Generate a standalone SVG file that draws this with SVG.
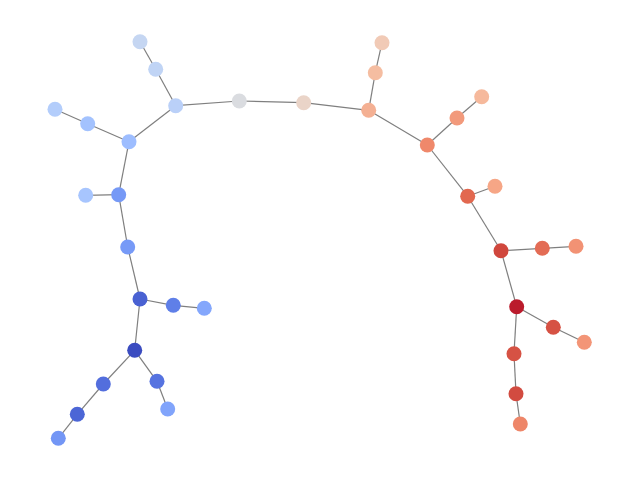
<svg xmlns="http://www.w3.org/2000/svg" width="640" height="480" viewBox="0 0 640 480">
<style>
.e line{stroke:#7f7f7f;stroke-width:1.2}
circle{stroke:none}
</style>
<rect width="640" height="480" fill="#ffffff"/>
<g id="connectors" class="e">
<line x1="140" y1="41.7" x2="155.7" y2="69.3"/>
<line x1="155.7" y1="69.3" x2="175.7" y2="105.7"/>
<line x1="175.7" y1="105.7" x2="239.3" y2="101"/>
<line x1="239.3" y1="101" x2="303.7" y2="102.7"/>
<line x1="303.7" y1="102.7" x2="368.7" y2="110.3"/>
<line x1="368.7" y1="110.3" x2="375.3" y2="72.7"/>
<line x1="375.3" y1="72.7" x2="382" y2="42.7"/>
<line x1="368.7" y1="110.3" x2="427.3" y2="145"/>
<line x1="427.3" y1="145" x2="457" y2="118"/>
<line x1="457" y1="118" x2="481.7" y2="96.7"/>
<line x1="427.3" y1="145" x2="467.7" y2="196.2"/>
<line x1="467.7" y1="196.2" x2="495" y2="186.2"/>
<line x1="467.7" y1="196.2" x2="501" y2="250.7"/>
<line x1="501" y1="250.7" x2="542.3" y2="248.3"/>
<line x1="542.3" y1="248.3" x2="576" y2="246.3"/>
<line x1="501" y1="250.7" x2="516.7" y2="306.7"/>
<line x1="516.7" y1="306.7" x2="553.3" y2="327.3"/>
<line x1="553.3" y1="327.3" x2="584.3" y2="342.3"/>
<line x1="516.7" y1="306.7" x2="514" y2="353.7"/>
<line x1="514" y1="353.7" x2="516" y2="393.7"/>
<line x1="516" y1="393.7" x2="520.3" y2="424"/>
<line x1="175.7" y1="105.7" x2="129" y2="141.7"/>
<line x1="129" y1="141.7" x2="87.7" y2="123.7"/>
<line x1="87.7" y1="123.7" x2="55" y2="109.3"/>
<line x1="129" y1="141.7" x2="118.7" y2="194.7"/>
<line x1="118.7" y1="194.7" x2="85.7" y2="195.3"/>
<line x1="118.7" y1="194.7" x2="127.7" y2="247"/>
<line x1="127.7" y1="247" x2="140" y2="299"/>
<line x1="140" y1="299" x2="173.3" y2="305.3"/>
<line x1="173.3" y1="305.3" x2="204.3" y2="308.3"/>
<line x1="140" y1="299" x2="134.7" y2="350.3"/>
<line x1="134.7" y1="350.3" x2="103.3" y2="384"/>
<line x1="103.3" y1="384" x2="77.3" y2="414.3"/>
<line x1="77.3" y1="414.3" x2="58.3" y2="438.3"/>
<line x1="134.7" y1="350.3" x2="157" y2="381.3"/>
<line x1="157" y1="381.3" x2="167.7" y2="409"/>
</g>
<g id="n1"><circle cx="140" cy="41.7" r="7.5" fill="#c5d6f2"/></g>
<g id="n2"><circle cx="155.7" cy="69.3" r="7.5" fill="#c0d4f5"/></g>
<g id="n3"><circle cx="175.7" cy="105.7" r="7.5" fill="#bad0f8"/></g>
<g id="n4"><circle cx="239.3" cy="101" r="7.5" fill="#dadce0"/></g>
<g id="n5"><circle cx="303.7" cy="102.7" r="7.5" fill="#ead4c8"/></g>
<g id="n6"><circle cx="368.7" cy="110.3" r="7.5" fill="#f4b093"/></g>
<g id="n7"><circle cx="375.3" cy="72.7" r="7.5" fill="#f5bda1"/></g>
<g id="n8"><circle cx="382" cy="42.7" r="7.5" fill="#f1cab6"/></g>
<g id="n9"><circle cx="427.3" cy="145" r="7.5" fill="#ef886b"/></g>
<g id="n10"><circle cx="457" cy="118" r="7.5" fill="#f29a7c"/></g>
<g id="n11"><circle cx="481.7" cy="96.7" r="7.5" fill="#f6b99c"/></g>
<g id="n12"><circle cx="467.7" cy="196.2" r="7.5" fill="#e2684f"/></g>
<g id="n13"><circle cx="495" cy="186.2" r="7.5" fill="#f6a686"/></g>
<g id="n14"><circle cx="501" cy="250.7" r="7.5" fill="#d0473d"/></g>
<g id="n15"><circle cx="542.3" cy="248.3" r="7.5" fill="#e36c55"/></g>
<g id="n16"><circle cx="576" cy="246.3" r="7.5" fill="#f29274"/></g>
<g id="n17"><circle cx="516.7" cy="306.7" r="7.5" fill="#bb1b2c"/></g>
<g id="n18"><circle cx="553.3" cy="327.3" r="7.5" fill="#d65244"/></g>
<g id="n19"><circle cx="584.3" cy="342.3" r="7.5" fill="#f39577"/></g>
<g id="n20"><circle cx="514" cy="353.7" r="7.5" fill="#d65244"/></g>
<g id="n21"><circle cx="516" cy="393.7" r="7.5" fill="#d24b40"/></g>
<g id="n22"><circle cx="520.3" cy="424" r="7.5" fill="#ee8669"/></g>
<g id="n23"><circle cx="129" cy="141.7" r="7.5" fill="#9dbdff"/></g>
<g id="n24"><circle cx="87.7" cy="123.7" r="7.5" fill="#a3c2fe"/></g>
<g id="n25"><circle cx="55" cy="109.3" r="7.5" fill="#b3cdfb"/></g>
<g id="n26"><circle cx="118.7" cy="194.7" r="7.5" fill="#7699f6"/></g>
<g id="n27"><circle cx="85.7" cy="195.3" r="7.5" fill="#a7c5fe"/></g>
<g id="n28"><circle cx="127.7" cy="247" r="7.5" fill="#779af7"/></g>
<g id="n29"><circle cx="140" cy="299" r="7.5" fill="#4961d2"/></g>
<g id="n30"><circle cx="173.3" cy="305.3" r="7.5" fill="#5f7fe8"/></g>
<g id="n31"><circle cx="204.3" cy="308.3" r="7.5" fill="#84a7fc"/></g>
<g id="n32"><circle cx="134.7" cy="350.3" r="7.5" fill="#3b4cc0"/></g>
<g id="n33"><circle cx="103.3" cy="384" r="7.5" fill="#536edd"/></g>
<g id="n34"><circle cx="77.3" cy="414.3" r="7.5" fill="#4c66d6"/></g>
<g id="n35"><circle cx="58.3" cy="438.3" r="7.5" fill="#7396f5"/></g>
<g id="n36"><circle cx="157" cy="381.3" r="7.5" fill="#5673e0"/></g>
<g id="n37"><circle cx="167.7" cy="409" r="7.5" fill="#81a4fb"/></g>
</svg>
